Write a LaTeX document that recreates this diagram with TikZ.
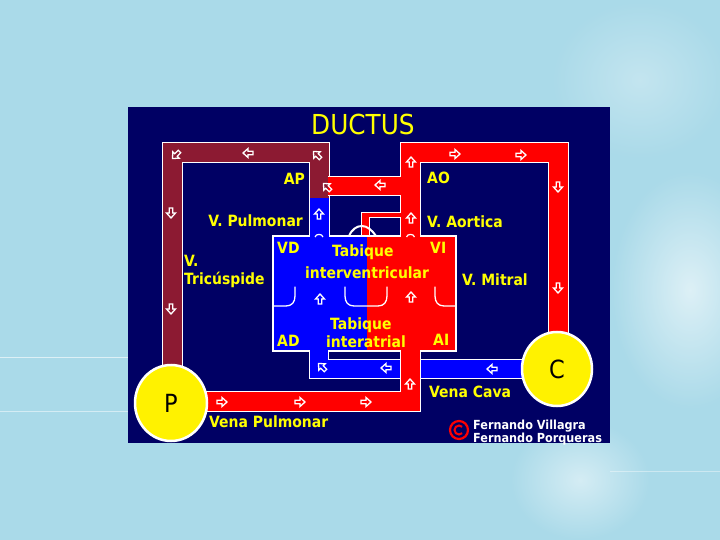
\documentclass[tikz,border=0pt]{standalone}
\usepackage{fontspec}
\newfontfamily\labfont[FakeStretch=0.9]{DejaVu Sans Bold}
\newfontfamily\ttlfont[FakeStretch=0.9]{DejaVu Sans}
\definecolor{bgblue}{RGB}{170,218,233}
\definecolor{navy}{RGB}{0,0,100}
\definecolor{maroon}{RGB}{140,26,50}
\definecolor{pred}{RGB}{255,0,0}
\definecolor{pblue}{RGB}{0,0,255}
\definecolor{lab}{RGB}{255,255,0}
\begin{document}
\begin{tikzpicture}[x=1pt,y=-1pt,line join=miter,line cap=butt,
  wpipe/.style={draw=white,line width=21pt},
  cpipe/.style={line width=19pt},
  lbl/.style={text=lab,font=\labfont\fontsize{15.5}{16}\selectfont,inner sep=0pt},
  cpy/.style={text=white,font=\labfont\fontsize{12.5}{12.5}\selectfont,inner sep=0pt},
  big/.style={text=black,font=\ttlfont\fontsize{25}{25}\selectfont,inner sep=0pt},
  valve/.style={draw=white,line width=1.3pt,line cap=round},
  flow/.pic={\draw[white,line width=1.3pt,line join=miter] (-5,-1.8)--(0,-1.8)--(0,-4.5)--(5,0)--(0,4.5)--(0,1.8)--(-5,1.8)--cycle;}
]
\useasboundingbox (0,0) rectangle (720,540);
% background
\fill[bgblue] (0,0) rectangle (720,540);
\shade[inner color=white,outer color=bgblue,opacity=0.6] (690,290) ellipse (80 and 120);
\shade[inner color=white,outer color=bgblue,opacity=0.5] (580,480) ellipse (70 and 60);
\shade[inner color=white,outer color=bgblue,opacity=0.3] (640,80) ellipse (90 and 80);
\draw[white,opacity=0.6,line width=0.8pt] (0,357) -- (128,357);
\draw[white,opacity=0.5,line width=0.8pt] (0,411) -- (128,411);
\draw[white,opacity=0.4,line width=0.8pt] (610,471) -- (720,471);
% panel
\fill[navy] (128,107) rectangle (610,443);
% maroon + blue upper pipe
\draw[wpipe] (172,372) -- (172,153) -- (319,153) -- (319,240);
\draw[cpipe,maroon] (172,372) -- (172,153) -- (319,153) -- (319,198);
\draw[cpipe,pblue] (319,198) -- (319,240);
% red aorta + ductus
\draw[wpipe] (558,340) -- (558,153) -- (410.5,153) -- (410.5,240);
\draw[white,line width=20pt] (410,186) -- (328,186);
\filldraw[fill=pred,draw=white,line width=1pt] (401,213) -- (361,213) -- (361,238) -- (369,238) -- (369,218) -- (401,218) -- cycle;
\draw[cpipe,pred] (558,340) -- (558,153) -- (410.5,153) -- (410.5,240);
\draw[pred,line width=18pt] (410,186) -- (328,186);
% blue lower pipe (vena cava)
\draw[white,line width=20pt] (319,345) -- (319,369) -- (530,369);
\draw[pblue,line width=18pt] (319,345) -- (319,369) -- (530,369);
% red lower pipe (vena pulmonar)
\draw[wpipe] (410.5,345) -- (410.5,401.5) -- (200,401.5);
\draw[cpipe,pred] (410.5,345) -- (410.5,401.5) -- (200,401.5);
% heart box
\fill[pblue] (273,236) rectangle (367,351);
\fill[pred] (367,236) rectangle (456,351);
\draw[white,line width=1.2pt] (273,236) rectangle (456,351);
\draw[pblue,line width=19pt] (319,230) -- (319,240);
\draw[pred,line width=19pt] (410.5,230) -- (410.5,240);
\draw[pblue,line width=18pt] (319,345) -- (319,356);
\draw[pred,line width=19pt] (410.5,345) -- (410.5,356);
\draw[white,line width=1.2pt] (315,237) .. controls (316,233.5) and (322,233.5) .. (323,237);
\draw[white,line width=1.2pt] (406.5,237) .. controls (407.5,233.5) and (413.5,233.5) .. (414.5,237);
% valves
\draw[valve] (273,306) -- (286,306) .. controls (292,306) and (295,302) .. (295,296) -- (295,287);
\draw[valve] (345,287) -- (345,296) .. controls (345,302) and (348,306) .. (354,306) -- (378,306) .. controls (384,306) and (387,302) .. (387,296) -- (387,287);
\draw[valve] (435,287) -- (435,296) .. controls (435,302) and (438,306) .. (444,306) -- (456,306);
\draw[white,line width=2pt] (349,236) .. controls (352,229) and (357,226) .. (362,226) .. controls (367,226) and (372,230) .. (376,236);
% circles
\filldraw[fill=yellow,draw=white,line width=2.5pt] (171,403) ellipse (36 and 38);
\filldraw[fill=yellow,draw=white,line width=2.5pt] (557,369) ellipse (35 and 37);
\node[big,anchor=base] (P) at (171,412) {P};
\node[big,anchor=base] (C) at (557,378) {C};
% flow arrows
\foreach \p in {(319,214),(411,162),(411,218),(320,299),(411,297),(410,384)} \pic[rotate=90] at \p {flow};
\foreach \p in {(171,213),(171,309),(558,187),(558,288)} \pic[rotate=-90] at \p {flow};
\foreach \p in {(248,153),(380,185),(386,368),(492,369)} \pic[rotate=180] at \p {flow};
\foreach \p in {(455,154),(521,155),(222,402),(300,402),(366,402)} \pic at \p {flow};
\foreach \p in {(317,155),(327,187),(322,367)} \pic[rotate=135] at \p {flow};
\pic[rotate=-135] at (176,155) {flow};
% labels
\node[text=lab,font=\ttlfont\fontsize{27.5}{28}\selectfont,inner sep=0pt,anchor=base west] (title) at (311,135) {DUCTUS};
\node[lbl,anchor=base east] (ap) at (305,185) {AP};
\node[lbl,anchor=base west] (ao) at (427,184) {AO};
\node[lbl,anchor=base east] (vp) at (303,226) {V. Pulmonar};
\node[lbl,anchor=base west] (va) at (427,227) {V. Aortica};
\node[lbl,anchor=base west] (vt1) at (184,266) {V.};
\node[lbl,anchor=base west] (vt2) at (184,284) {Tricúspide};
\node[lbl,anchor=base west] (vd) at (277,254) {VD};
\node[lbl,anchor=base west] (tab1) at (332,256) {Tabique};
\node[lbl,anchor=base west] (iv) at (305,278) {interventricular};
\node[lbl,anchor=base west] (vi) at (430,254) {VI};
\node[lbl,anchor=base west] (vm) at (462,285) {V. Mitral};
\node[lbl,anchor=base west] (tab2) at (330,329) {Tabique};
\node[lbl,anchor=base west] (ia) at (326,347) {interatrial};
\node[lbl,anchor=base west] (ad) at (277,346) {AD};
\node[lbl,anchor=base west] (ai) at (433,345) {AI};
\node[lbl,anchor=base west] (vc) at (429,397) {Vena Cava};
\node[lbl,anchor=base west] (vpl) at (209,427) {Vena Pulmonar};
% copyright
\draw[pred,line width=2.2pt] (459,430) circle (9);
\draw[pred,line width=2pt] (459,430) ++(45:4.5) arc[start angle=45,end angle=315,radius=4.5];
\node[cpy,anchor=base west] (fv) at (473,429.5) {Fernando Villagra};
\node[cpy,anchor=base west] (fp) at (473,442) {Fernando Porqueras};
\end{tikzpicture}
\end{document}
